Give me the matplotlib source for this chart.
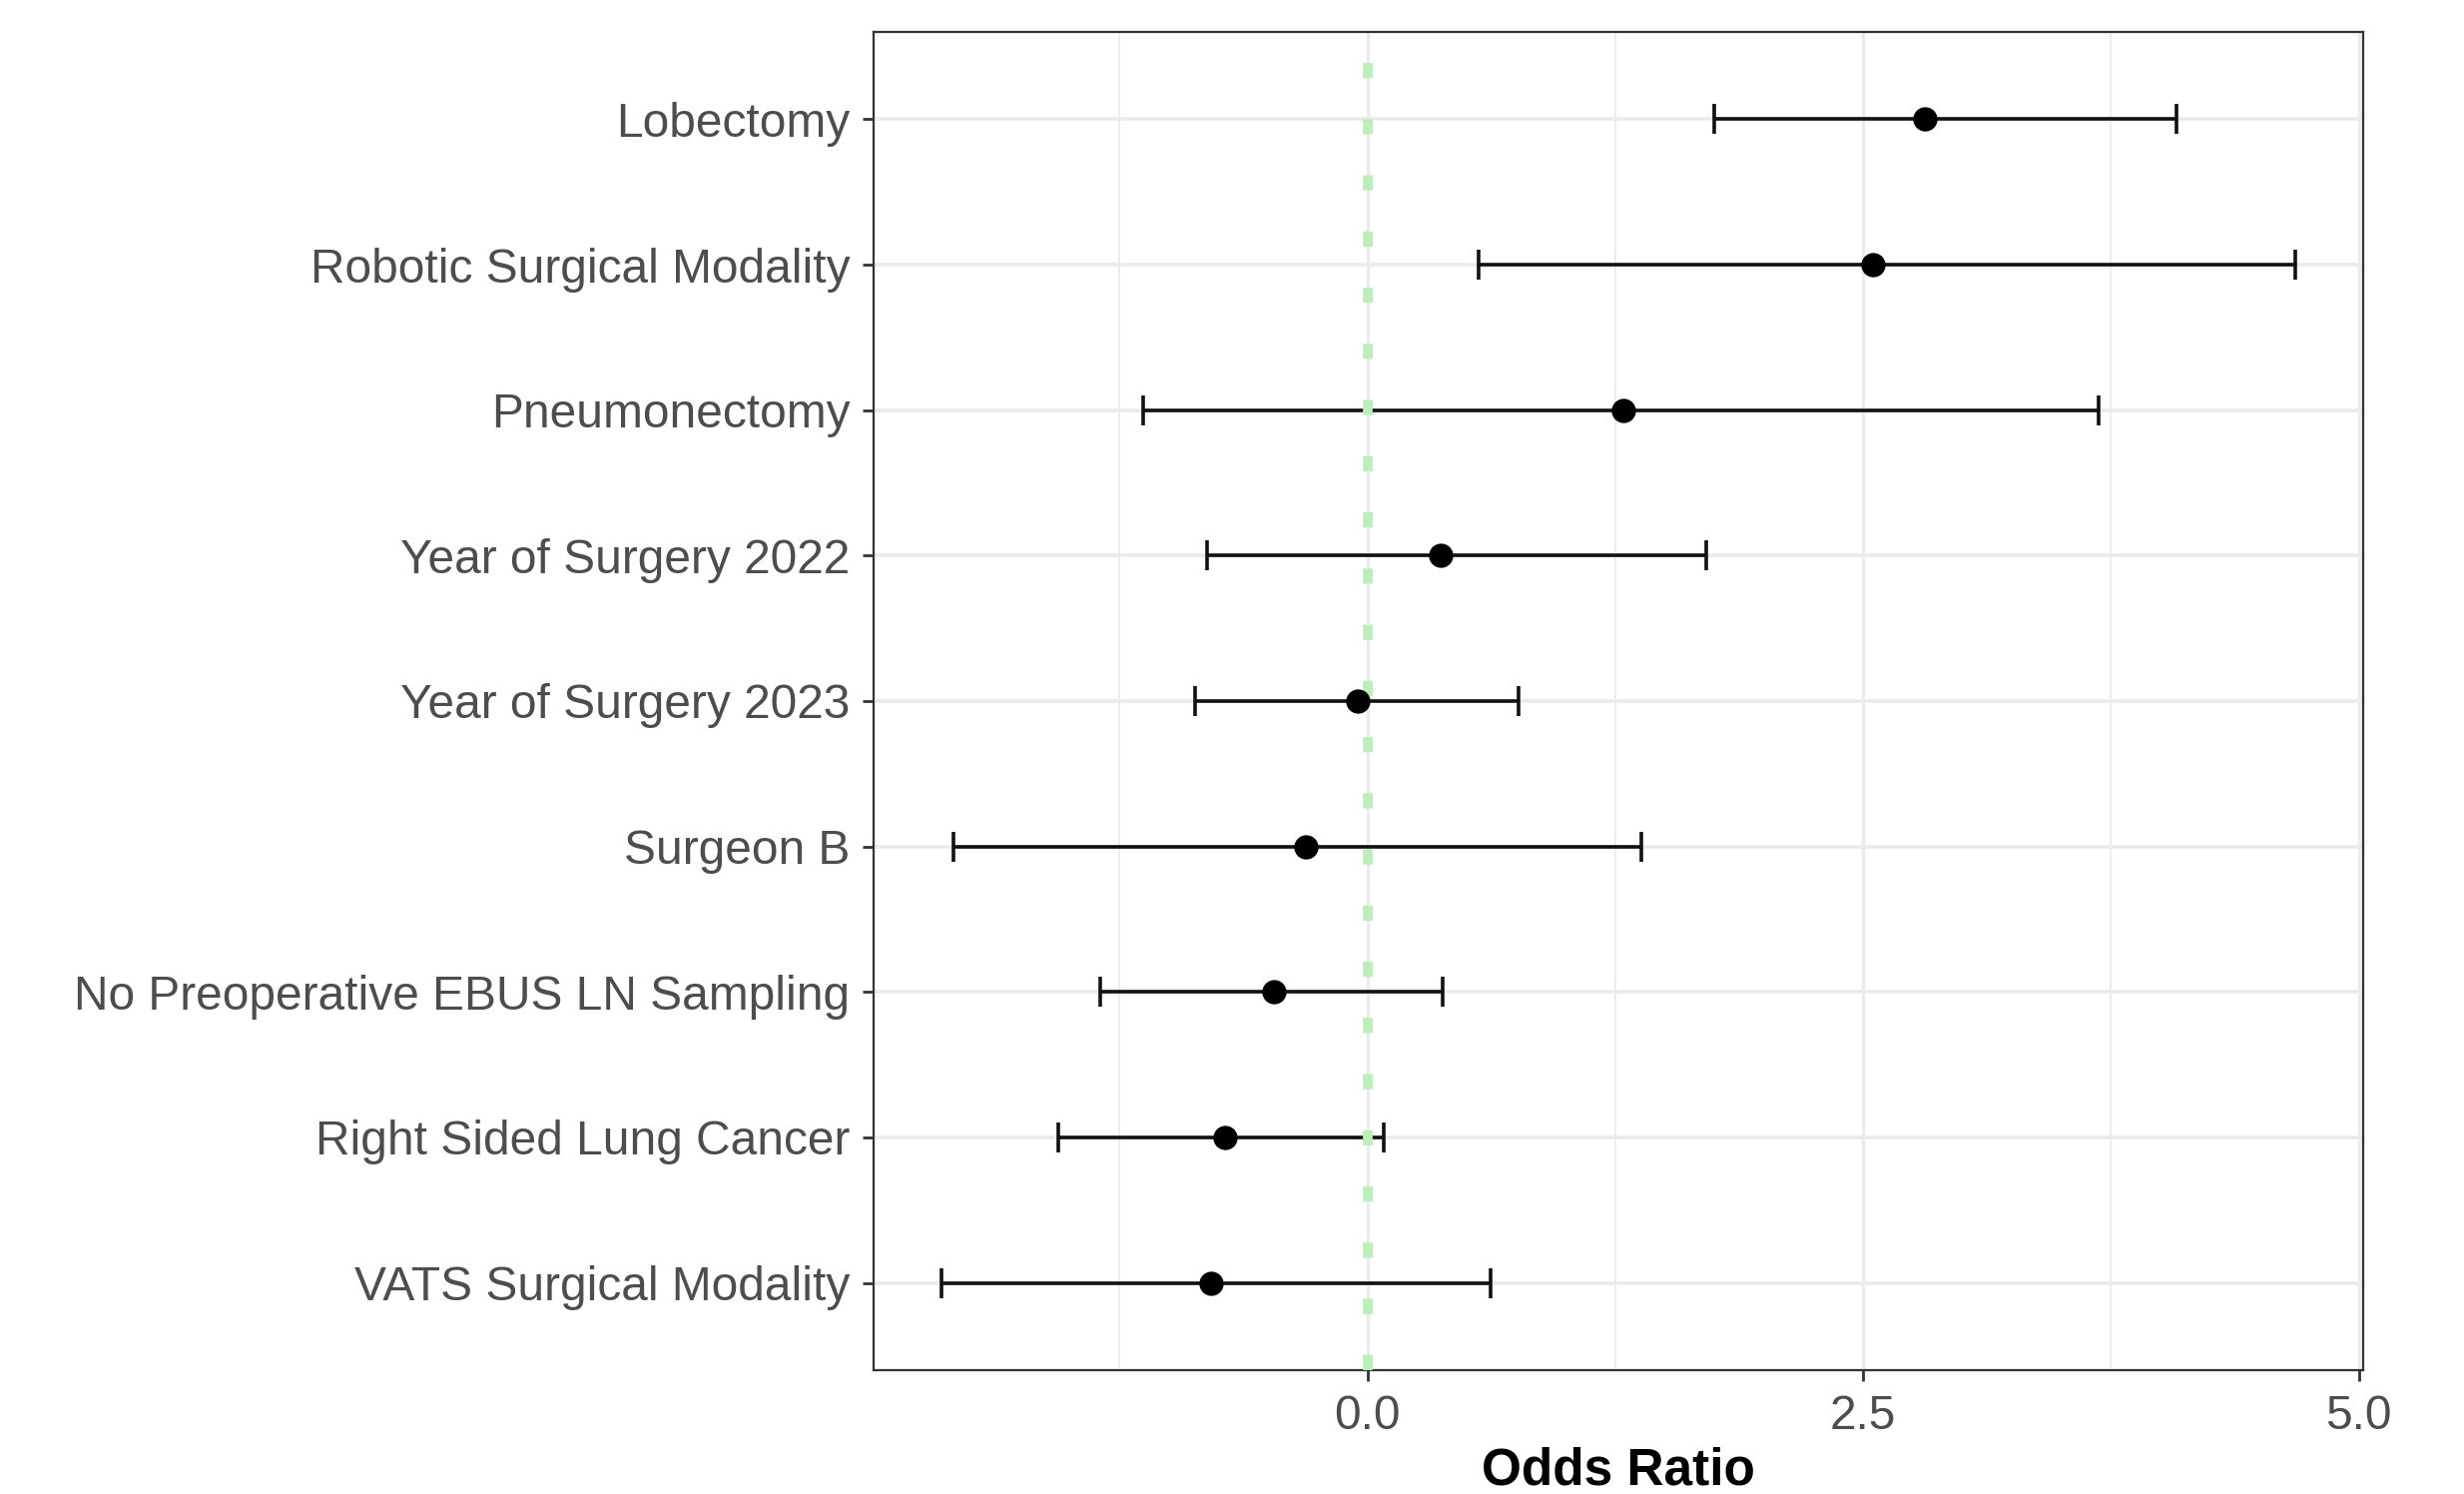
import matplotlib
matplotlib.use("Agg")
import matplotlib.pyplot as plt
import numpy as np

# Data (bottom to top)
categories = [
    "VATS Surgical Modality",
    "Right Sided Lung Cancer",
    "No Preoperative EBUS LN Sampling",
    "Surgeon B",
    "Year of Surgery 2023",
    "Year of Surgery 2022",
    "Pneumonectomy",
    "Robotic Surgical Modality",
    "Lobectomy",
]
estimate = [-0.79, -0.72, -0.47, -0.31, -0.05, 0.37, 1.29, 2.55, 2.81]
lower = [-2.15, -1.56, -1.35, -2.09, -0.87, -0.81, -1.13, 0.56, 1.75]
upper = [0.62, 0.08, 0.38, 1.38, 0.76, 1.71, 3.69, 4.68, 4.08]
x_ticks = [0.0, 2.5, 5.0]
x_tick_labels = ["0.0", "2.5", "5.0"]
x_minor = [-1.25, 1.25, 3.75]
ref_value = 0.0

plt.rcParams['font.family'] = ['Liberation Sans', 'DejaVu Sans']
plt.rcParams['lines.scale_dashes'] = False

fig = plt.figure(figsize=(24.68, 14.96), dpi=100)
ax = fig.add_axes([0.3545, 0.0829, 0.959 - 0.3545, 0.9786 - 0.0829])

y = np.arange(1, len(categories) + 1)
est = np.array(estimate)
lo = np.array(lower)
hi = np.array(upper)

# limits like ggplot expansion
dmin = min(lo.min(), ref_value)
dmax = max(hi.max(), ref_value)
rng = dmax - dmin
ax.set_xlim(dmin - 0.05 * rng, dmax + 0.05 * rng)
ax.set_ylim(0.4, len(categories) + 0.6)

# grid
for xm in x_minor:
    ax.axvline(xm, color='#EBEBEB', lw=1.3, zorder=0)
for xt in x_ticks:
    ax.axvline(xt, color='#EBEBEB', lw=2.4, zorder=0)
for yy in y:
    ax.axhline(yy, color='#EBEBEB', lw=2.6, zorder=0)

ax.errorbar(est, y, xerr=[est - lo, hi - est], fmt='none', ecolor='#111111',
            elinewidth=2.6, capsize=10.5, capthick=2.6, zorder=2)
ax.axvline(ref_value, color='#b9efb9', lw=7.0, linestyle=(0, (11, 29.5)),
           dash_capstyle='butt', zorder=3)
ax.plot(est, y, 'o', color='black', markersize=17.5, zorder=4, markeredgewidth=0)

ax.set_yticks(y)
ax.set_yticklabels(categories)
ax.set_xticks(x_ticks)
ax.set_xticklabels(x_tick_labels)
ax.tick_params(axis='both', labelsize=34.5, labelcolor='#4D4D4D', color='#333333',
               length=8, width=2, pad=9)
ax.set_xlabel("Odds Ratio", fontsize=37, fontweight='bold', color='black', labelpad=6)

for s in ax.spines.values():
    s.set_color('#333333')
    s.set_linewidth(1.6)

fig.savefig("out.png", dpi=100)
